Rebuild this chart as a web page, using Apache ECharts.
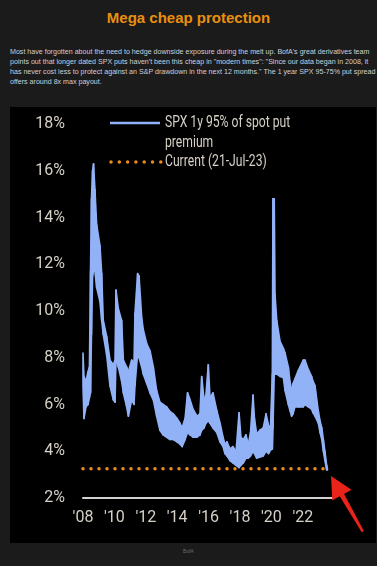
<!DOCTYPE html>
<html>
<head>
<meta charset="utf-8">
<script src="https://cdn.jsdelivr.net/npm/echarts/dist/echarts.min.js"></script>
<style>
  html, body { margin: 0; padding: 0; background: #1b1b1b; }
  #page { position: relative; width: 377px; height: 566px; overflow: hidden; font-family: 'Liberation Sans', Arial, sans-serif; }
  .title { position: absolute; left: 0; top: 9px; width: 377px; text-align: center; color: #e8900e; font-weight: bold; font-size: 15px; line-height: 18px; }
  .note { position: absolute; left: 10px; top: 47px; width: 366px; color: #cdd0d8; font-size: 7.1px; line-height: 10px; white-space: nowrap; }
  #chart { position: absolute; left: 10px; top: 107px; width: 366px; height: 436px; background: #000; }
  .src { position: absolute; left: 0; top: 548px; width: 377px; text-align: center; color: #6a6a6a; font-size: 5px; }
</style>
</head>
<body>
<div id="page">
  <div class="title">Mega cheap protection</div>
  <div class="note">Most have forgotten about the need to hedge downside exposure during the melt up. BofA's great derivatives team<br>points out that longer dated SPX puts haven't been this cheap in "modern times": "Since our data began in 2008, it<br>has never cost less to protect against an S&amp;P drawdown in the next 12 months." The 1 year SPX 95-75% put spread<br>offers around 8x max payout.</div>
  <div id="chart"></div>
  <div class="src">BofA</div>
</div>
<script>
// dates as decimal years, band (top / bottom of the noisy line)
const dates = [2008.00, 2008.06, 2008.19, 2008.32, 2008.41, 2008.48, 2008.54, 2008.61, 2008.67, 2008.76, 2008.87,
  2009.08, 2009.19, 2009.29, 2009.51, 2009.72, 2009.93, 2010.04, 2010.10, 2010.25, 2010.46, 2010.57, 2010.78, 2010.89,
  2011.10, 2011.25, 2011.31, 2011.48, 2011.57, 2011.74, 2011.84, 2012.06, 2012.27, 2012.48, 2012.69, 2012.90,
  2013.10, 2013.33, 2013.54, 2013.75, 2013.99, 2014.18, 2014.31, 2014.50, 2014.66, 2014.82, 2015.01, 2015.26,
  2015.45, 2015.56, 2015.71, 2015.83, 2015.98, 2016.09, 2016.28, 2016.52, 2016.73, 2016.92, 2017.04, 2017.17,
  2017.36, 2017.55, 2017.75, 2017.94, 2018.06, 2018.21, 2018.38, 2018.53, 2018.67, 2018.83, 2018.92, 2019.06,
  2019.27, 2019.48, 2019.66, 2019.82, 2019.94, 2020.06, 2020.10, 2020.18, 2020.23, 2020.34, 2020.55, 2020.76,
  2020.87, 2021.08, 2021.18, 2021.29, 2021.38, 2021.50, 2021.71, 2021.82, 2022.03, 2022.14, 2022.35, 2022.56,
  2022.65, 2022.78, 2022.99, 2023.10, 2023.21, 2023.31, 2023.41, 2023.52, 2023.57];
const premHigh = [8.2, 7.2, 7.0, 7.4, 7.6, 11.7, 14.8, 16.0, 16.3, 15.2, 13.7,
  12.8, 11.6, 9.6, 8.9, 7.9, 7.7, 7.9, 10.9, 10.1, 9.6, 7.9, 7.6, 7.4,
  7.9, 7.8, 9.9, 11.6, 11.5, 9.7, 9.2, 8.6, 8.3, 7.6, 6.6, 6.1,
  6.0, 5.9, 5.7, 5.6, 5.4, 5.2, 5.0, 5.4, 6.5, 6.2, 5.8, 5.5,
  5.6, 7.2, 6.2, 6.4, 7.7, 6.3, 6.5, 5.75, 5.2, 4.6, 4.3, 4.4,
  4.1, 4.2, 4.0, 5.65, 4.6, 4.5, 4.7, 4.3, 4.8, 6.4, 5.4, 4.75,
  4.9, 5.0, 5.6, 5.1, 5.0, 7.3, 14.8, 14.8, 10.7, 9.6, 8.7, 8.4,
  8.2, 7.6, 7.0, 6.6, 6.9, 7.1, 7.45, 7.6, 7.9, 7.9, 7.5, 7.2,
  7.0, 6.8, 5.7, 5.3, 5.0, 4.5, 4.0, 3.4, 3.25];
const premLow = [6.8, 5.4, 5.9, 6.0, 6.3, 6.5, 9.0, 11.5, 11.7, 11.7, 11.0,
  10.4, 9.6, 9.0, 8.1, 6.8, 6.2, 6.1, 7.9, 7.6, 7.0, 6.5, 5.9, 5.5,
  6.2, 6.0, 6.8, 8.2, 8.0, 7.6, 7.3, 6.9, 6.5, 6.2, 5.5, 4.9,
  4.7, 4.6, 4.5, 4.5, 4.4, 4.3, 4.2, 4.5, 4.8, 4.7, 4.6, 4.6,
  4.7, 4.9, 5.0, 5.2, 5.3, 5.2, 5.0, 4.8, 4.4, 4.2, 3.9, 3.8,
  3.6, 3.5, 3.4, 3.3, 3.4, 3.5, 3.7, 3.7, 3.8, 4.0, 3.9, 3.7,
  3.75, 3.8, 4.0, 3.9, 4.05, 4.1, 5.0, 7.3, 7.3, 7.3, 7.2, 7.15,
  6.6, 6.0, 5.75, 5.5, 5.6, 5.9, 5.9, 5.9, 5.9, 6.0, 5.9, 5.8,
  5.65, 5.5, 5.2, 4.8, 4.5, 4.0, 3.6, 3.2, 3.2];
// current level (21-Jul-23)
const currentDates = [2008.00, 2023.57];
const currentLevel = 3.25;

const blue = '#92b2f7';
const orange = '#f08a1c';
const labelColor = '#d6d0c6';
const legendFont = '16px Roboto';

let chart = echarts.init(document.getElementById('chart'));

const bandData = dates.map((d, i) => [d, premLow[i], premHigh[i]]);
const curData = currentDates.map((d) => [d, currentLevel]);

// one filled quad between two neighbouring dates, from low to high
function renderBand(params, api) {
  const i = params.dataIndex;
  if (i === 0) return;
  const p = bandData[i - 1];
  const pts = [
    api.coord([p[0], p[1]]),
    api.coord([p[0], p[2]]),
    api.coord([api.value(0), api.value(2)]),
    api.coord([api.value(0), api.value(1)])
  ];
  return {
    type: 'polygon',
    shape: { points: pts },
    style: { fill: blue, stroke: blue, lineWidth: 1.6, lineJoin: 'round' }
  };
}

const option = {
  animation: false,
  backgroundColor: '#000',
  grid: { left: 73, right: 44, top: 17, bottom: 45 },
  xAxis: {
    type: 'value',
    min: 2008,
    max: 2023.86,
    interval: 2,
    axisLine: { show: true, lineStyle: { color: '#d2d2d2', width: 2 } },
    axisTick: { show: false },
    splitLine: { show: false },
    axisLabel: {
      color: labelColor,
      fontFamily: 'Roboto',
      fontSize: 16,
      margin: 12,
      showMaxLabel: false,
      formatter: (v) => (v % 2 === 0 ? "'" + String(v).slice(2) : '')
    }
  },
  yAxis: {
    type: 'value',
    min: 2,
    max: 18,
    interval: 2,
    axisLine: { show: false },
    axisTick: { show: false },
    splitLine: { show: false },
    axisLabel: {
      color: labelColor,
      fontFamily: 'Roboto',
      fontSize: 16,
      margin: 18,
      formatter: '{value}%'
    }
  },
  series: [
    {
      type: 'custom',
      data: bandData,
      encode: { x: 0, y: [1, 2] },
      renderItem: renderBand,
      z: 2
    },
    {
      type: 'line',
      data: curData,
      symbol: 'none',
      z: 4,
      lineStyle: { color: orange, width: 3.5, type: [0, 8], cap: 'round' }
    }
  ],
  graphic: [
    // legend
    { type: 'line', shape: { x1: 100, y1: 16, x2: 150, y2: 16 }, style: { stroke: blue, lineWidth: 2.5 } },
    { type: 'text', x: 155, y: 16, scaleX: 0.76, style: { text: 'SPX 1y 95% of spot put', fill: labelColor, font: legendFont, textVerticalAlign: 'middle' } },
    { type: 'text', x: 155, y: 36, scaleX: 0.76, style: { text: 'premium', fill: labelColor, font: legendFont, textVerticalAlign: 'middle' } },
    { type: 'line', shape: { x1: 101, y1: 55, x2: 151, y2: 55 }, style: { stroke: orange, lineWidth: 3.5, lineDash: [0, 8.3], lineCap: 'round' } },
    { type: 'text', x: 155, y: 55, scaleX: 0.76, style: { text: 'Current (21-Jul-23)', fill: labelColor, font: legendFont, textVerticalAlign: 'middle' } },
    // red arrow
    {
      type: 'polygon',
      z: 10,
      shape: { points: [[321, 369], [322.3, 393.5], [329.7, 389.3], [351.7, 425.3], [353.9, 424.1], [334.1, 386.9], [341.5, 382.7]] },
      style: { fill: '#e8231a' }
    }
  ]
};
chart.setOption(option);
</script>
</body>
</html>
